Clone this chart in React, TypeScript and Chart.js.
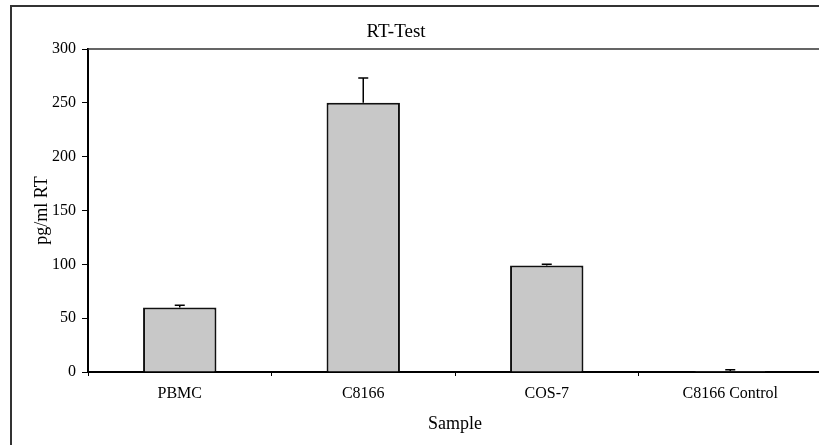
import React, { useEffect, useRef } from "react";
import { Chart, registerables } from "chart.js";

Chart.register(...registerables);

const categories = ["PBMC", "C8166", "COS-7", "C8166 Control"];
const rtValues = [60, 250, 99, 1];
const rtErrors = [2, 23, 1, 1];
const yTicks = [0, 50, 100, 150, 200, 250, 300];
const chartTitle = "RT-Test";
const xTitle = "Sample";
const yTitle = "pg/ml RT";

const FONT = "'Liberation Serif', 'Times New Roman', serif";
const CANVAS_W = 846;
const CANVAS_H = 470;

const decorPlugin = {
  id: "decor",
  beforeDraw(chart: any) {
    const ctx = chart.ctx;
    ctx.save();
    ctx.fillStyle = "#fff";
    ctx.fillRect(0, 0, chart.width, chart.height);
    ctx.strokeStyle = "#333";
    ctx.lineWidth = 2;
    ctx.strokeRect(11, 6, 825, 480);
    ctx.restore();
  },
  afterDraw(chart: any) {
    const ctx = chart.ctx;
    const a = chart.chartArea;
    ctx.save();
    ctx.strokeStyle = "#333";
    ctx.lineWidth = 1.5;
    ctx.beginPath();
    ctx.moveTo(a.left, a.top);
    ctx.lineTo(a.right, a.top);
    ctx.lineTo(a.right, a.bottom);
    ctx.stroke();
    ctx.fillStyle = "#000";
    ctx.textAlign = "center";
    ctx.textBaseline = "middle";
    ctx.font = `19px ${FONT}`;
    ctx.fillText(chartTitle, 396, 32);
    ctx.font = `18px ${FONT}`;
    ctx.fillText(xTitle, (a.left + a.right) / 2, 424);
    ctx.translate(42, (a.top + a.bottom) / 2);
    ctx.rotate(-Math.PI / 2);
    ctx.fillText(yTitle, 0, 0);
    ctx.restore();
  },
  afterDatasetsDraw(chart: any) {
    const ctx = chart.ctx;
    const meta = chart.getDatasetMeta(0);
    const ys = chart.scales.y;
    ctx.save();
    ctx.strokeStyle = "#000";
    ctx.lineWidth = 1.5;
    meta.data.forEach((bar: any, i: number) => {
      const x = bar.x;
      const yb = ys.getPixelForValue(rtValues[i]);
      const yt = ys.getPixelForValue(rtValues[i] + rtErrors[i]);
      ctx.beginPath();
      ctx.moveTo(x, yb);
      ctx.lineTo(x, yt);
      ctx.moveTo(x - 5, yt);
      ctx.lineTo(x + 5, yt);
      ctx.stroke();
    });
    ctx.restore();
  },
};

export default function App() {
  const ref = useRef<HTMLCanvasElement | null>(null);
  useEffect(() => {
    if (!ref.current) return;
    const chart = new Chart(ref.current, {
      type: "bar",
      data: {
        labels: categories,
        datasets: [
          {
            data: rtValues,
            backgroundColor: "#c8c8c8",
            borderColor: "#111",
            borderWidth: 2,
            barPercentage: 0.4,
            categoryPercentage: 1,
          },
        ],
      },
      options: {
        responsive: false,
        animation: false,
        devicePixelRatio: 1,
        layout: { padding: { left: 0, top: 49, right: 24, bottom: 0 } },
        plugins: {
          legend: { display: false },
          title: { display: false },
          tooltip: { enabled: false },
        },
        scales: {
          x: {
            grid: {
              offset: true,
              drawOnChartArea: false,
              drawTicks: true,
              tickLength: 4,
              color: "#000",
              lineWidth: 1,
            },
            border: { display: true, color: "#000", width: 2 },
            ticks: { color: "#000", font: { family: FONT, size: 16 }, padding: 8 },
            afterFit(scale: any) {
              scale.height = CANVAS_H - 372;
            },
          },
          y: {
            min: 0,
            max: 300,
            afterBuildTicks(scale: any) {
              scale.ticks = yTicks.map((v) => ({ value: v }));
            },
            grid: {
              drawOnChartArea: false,
              drawTicks: true,
              tickLength: 6,
              color: "#000",
              lineWidth: 1,
            },
            border: { display: true, color: "#000", width: 2 },
            ticks: { color: "#000", font: { family: FONT, size: 16 }, padding: 6 },
            afterFit(scale: any) {
              scale.width = 88;
            },
          },
        },
      },
      plugins: [decorPlugin],
    });
    return () => chart.destroy();
  }, []);
  return (
    <div
      style={{
        position: "fixed",
        left: 0,
        top: 0,
        width: 819,
        height: 445,
        overflow: "hidden",
        background: "#fff",
      }}
    >
      <canvas
        ref={ref}
        width={CANVAS_W}
        height={CANVAS_H}
        style={{ width: CANVAS_W, height: CANVAS_H, display: "block" }}
      />
    </div>
  );
}
